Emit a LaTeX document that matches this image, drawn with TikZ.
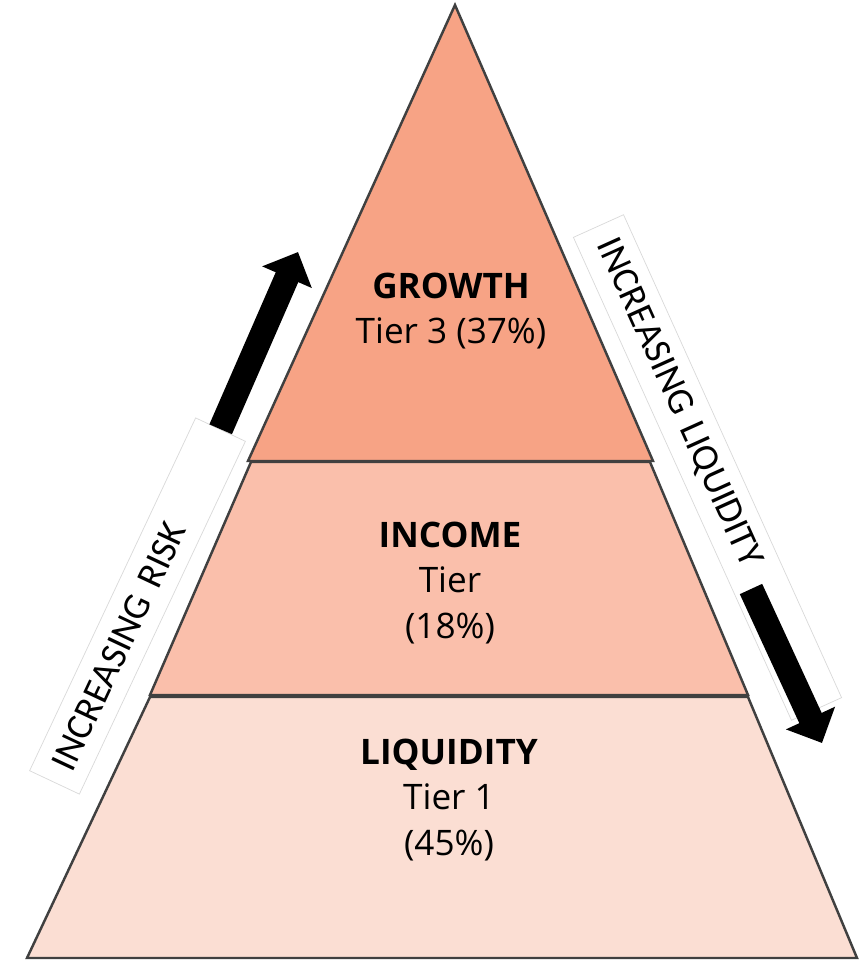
\documentclass[tikz,border=0pt]{standalone}
\usepackage{fontspec}
\setmainfont{Open Sans}
\newfontfamily\sidefont{Carlito}
\usetikzlibrary{arrows.meta,positioning}

\definecolor{growthfill}{HTML}{F7A385}
\definecolor{incomefill}{HTML}{FABFAB}
\definecolor{liquidfill}{HTML}{FBDED3}
\definecolor{edgegray}{HTML}{404040}

\begin{document}
\begin{tikzpicture}[x=0.02cm,y=-0.02cm,
    tier/.style={draw=edgegray,line width=1.4pt,line join=miter},
    tiertext/.style={align=center,font=\fontsize{20}{26}\selectfont},
    sidebox/.style={draw=black!15,fill=white,line width=0.4pt,
      minimum height=1.1cm,inner xsep=0.32cm,align=left,
      font=\sidefont\fontsize{21.5}{21.5}\selectfont},
    bigarrow/.style={line width=14pt,-{Triangle[length=0.55cm,width=1.05cm]}}]
  \useasboundingbox (0,0) rectangle (866,960);

  % the three tiers
  \filldraw[tier,fill=liquidfill] (150,697) -- (748,697) -- (857,958) -- (27,958) -- cycle;
  \filldraw[tier,fill=incomefill] (251,462) -- (650,462) -- (748,695) -- (150,695) -- cycle;
  \filldraw[tier,fill=growthfill] (455,5) -- (653,461) -- (248,461) -- cycle;

  \node[tiertext] (growth) at (451,311) {\textbf{GROWTH}\\Tier 3 (37\%)};
  \node[tiertext] (income) at (450,583) {\textbf{INCOME}\\Tier\\(18\%)};
  \node[tiertext] (liquidity) at (449,800) {\textbf{LIQUIDITY}\\Tier 1\\(45\%)};

  % side labels
  \node[sidebox,text width=7.16cm,rotate=64.8] (riskbox) at (137.5,606) {INCREASING RISK};
  \node[sidebox,text width=9.96cm,rotate=-65.7] (liqbox) at (707.5,467.5) {INCREASING LIQUIDITY};

  \coordinate (riskhead) at (298,252);
  \coordinate (liqtail) at (751,589);
  \coordinate (liqhead) at (822,743);
  \draw[bigarrow] (riskbox.east) -- (riskhead);
  \draw[bigarrow] (liqtail) -- (liqhead);
\end{tikzpicture}
\end{document}
